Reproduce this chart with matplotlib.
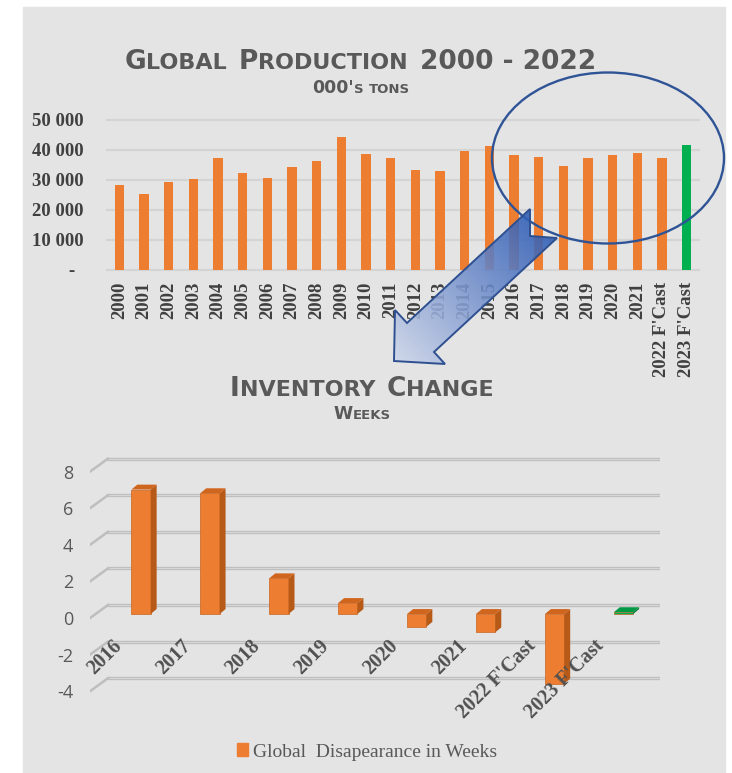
import matplotlib
matplotlib.use("Agg")
import matplotlib.pyplot as plt
import matplotlib.transforms as mtransforms
import numpy as np
from matplotlib.patches import Rectangle, Polygon, Ellipse, Patch
from matplotlib.colors import LinearSegmentedColormap

plt.rcParams['axes.unicode_minus'] = False

# --- Global production, 000's tons ---
prod_years = ["2000", "2001", "2002", "2003", "2004", "2005", "2006", "2007",
              "2008", "2009", "2010", "2011", "2012", "2013", "2014", "2015",
              "2016", "2017", "2018", "2019", "2020", "2021",
              "2022 F'Cast", "2023 F'Cast"]
prod_values = [28300, 25200, 29200, 30300, 37300, 32200, 30700, 34200,
               36500, 44300, 38700, 37300, 33500, 32900, 39700, 41200,
               38200, 37800, 34800, 37300, 38400, 39100, 37300, 41700]
prod_ticks = [0, 10000, 20000, 30000, 40000, 50000]

# --- Inventory change, weeks ---
inv_years = ["2016", "2017", "2018", "2019", "2020", "2021",
             "2022 F'Cast", "2023 F'Cast"]
inv_weeks = [6.8, 6.6, 1.95, 0.6, -0.7, -1.0, -3.8, 0.1]
inv_ticks = [-4, -2, 0, 2, 4, 6, 8]

ORANGE = '#ED7D31'
GREEN = '#00B050'
PANEL = '#E4E4E4'
GREY_TXT = '#595959'
DARK_TXT = '#404040'
BLUE = '#2F5496'

W, H = 732, 773
fig = plt.figure(figsize=(W / 100, H / 100), dpi=100)
fig.add_artist(Rectangle((23 / W, 0), (725 - 23) / W, (H - 7) / H,
                         transform=fig.transFigure, color=PANEL, zorder=-10))


def px_shift(dx, dy):
    # offset in pixels (y up)
    return mtransforms.ScaledTranslation(dx / 100, dy / 100, fig.dpi_scale_trans)


def small_caps(x_px, y_px, parts, color=GREY_TXT, family='DejaVu Sans', weight='bold'):
    # parts: (text, fontsize) or (None, gap in px); baseline at y_px, centred on x_px
    r = fig.canvas.get_renderer()
    items = []
    for s, size in parts:
        if s is None:
            items.append((None, size))
            continue
        t = fig.text(0, 1 - y_px / H, s, fontsize=size, color=color, family=family,
                     weight=weight, ha='left', va='baseline')
        items.append((t, t.get_window_extent(r).width))
    x0 = x_px - sum(w for _, w in items) / 2
    for t, w in items:
        if t is not None:
            t.set_x(x0 / W)
        x0 += w


# ---------------- top chart ----------------
ax1 = fig.add_axes([107 / W, 1 - 270 / H, 592 / W, 150 / H])
ax1.set_facecolor('none')
x = np.arange(len(prod_years))
prod_colors = [ORANGE] * (len(prod_years) - 1) + [GREEN]
ax1.bar(x, prod_values, width=0.37, color=prod_colors, zorder=3)
ax1.set_xlim(-0.5, len(x) - 0.5)
ax1.set_ylim(0, 50000)
ax1.set_yticks(prod_ticks, ['-' if v == 0 else f"{v:,}".replace(',', ' ') for v in prod_ticks])
ax1.set_xticks(x, prod_years)
ax1.yaxis.grid(True, color='#D4D4D4', lw=1.6, zorder=0)
for gl in ax1.get_ygridlines():
    gl.set_clip_on(False)
for s in ax1.spines.values():
    s.set_visible(False)
ax1.tick_params(axis='y', length=0, pad=17, labelsize=13.5, labelcolor=DARK_TXT)
ax1.tick_params(axis='x', length=0, pad=8.5, labelsize=13.5, labelcolor=DARK_TXT, labelrotation=90)
for lab in ax1.get_xticklabels() + ax1.get_yticklabels():
    lab.set_fontfamily('Liberation Serif')
    lab.set_fontweight('bold')
zero_lab = ax1.get_yticklabels()[0]
zero_lab.set_transform(zero_lab.get_transform() + px_shift(-9, 0))

small_caps(360, 69, [("G", 19), ("LOBAL", 16), (None, 12), ("P", 19), ("RODUCTION", 16),
                     (None, 12), ("2000 - 2022", 19)])
small_caps(361, 93, [("000'", 12.5), ("S", 9.5), (None, 5), ("TONS", 9.5)])

# ---------------- bottom chart (pseudo 3D) ----------------
ax2 = fig.add_axes([90 / W, 1 - 703.7 / H, 570 / W, 254.4 / H])
ax2.set_facecolor('none')
ax2.set_xlim(-0.74, 7.53)
ax2.set_ylim(-4.9, 9.0)
for s in ax2.spines.values():
    s.set_visible(False)

# depth of the floor / wall and of the bars, in data units
GRID_DX, GRID_DY, GRID_DROP = 0.26, 0.49, 0.22
BAR_W, BAR_DX, BAR_DY = 0.28, 0.087, 0.27

x0, x1 = ax2.get_xlim()
for v in inv_ticks:
    ax2.plot([x0 + GRID_DX, x1], [v + GRID_DY] * 2, color='#BEBEBE', lw=2.4,
             solid_capstyle='round', zorder=1)
    ax2.plot([x0 + GRID_DX, x1], [v + GRID_DY] * 2, color='#D6D6D6', lw=0.8, zorder=1)
    ax2.plot([x0, x0 + GRID_DX], [v - GRID_DROP, v + GRID_DY], color='#BEBEBE', lw=1.8, zorder=1)

ax2.set_yticks(inv_ticks, [str(v) for v in inv_ticks])
ax2.set_xticks([])
ax2.tick_params(axis='y', length=0, pad=12, labelsize=13, labelcolor=GREY_TXT)
for lab in ax2.get_yticklabels():
    lab.set_fontfamily('Open Sans')
    lab.set_transform(lab.get_transform() + px_shift(0, -4))

xi = np.arange(len(inv_years))
inv_colors = [ORANGE] * (len(inv_years) - 1) + [GREEN]
side_colors = ['#B85A17'] * (len(inv_years) - 1) + ['#007A36']
top_colors = ['#D0651E'] * (len(inv_years) - 1) + ['#009A44']
ax2.bar(xi, inv_weeks, width=BAR_W, color=inv_colors, edgecolor='#C8641F', lw=0.5, zorder=3,
        label="Global  Disapearance in Weeks")
for i, v in enumerate(inv_weeks):
    lo, hi = min(0, v), max(0, v)
    r = i + BAR_W / 2
    l = i - BAR_W / 2
    ax2.add_patch(Polygon([(r, lo), (r + BAR_DX, lo + BAR_DY), (r + BAR_DX, hi + BAR_DY), (r, hi)],
                          closed=True, fc=side_colors[i], ec='none', zorder=3))
    ax2.add_patch(Polygon([(l, hi), (l + BAR_DX, hi + BAR_DY), (r + BAR_DX, hi + BAR_DY), (r, hi)],
                          closed=True, fc=top_colors[i], ec='none', zorder=3))

for i, lab in enumerate(inv_years):
    ax2.annotate(lab, xy=(i, 0), xytext=(-22 * 0.72, -29 * 0.72), textcoords='offset points',
                 rotation=45, rotation_mode='anchor', ha='right', va='center',
                 fontsize=14.5, fontweight='bold', family='Liberation Serif',
                 color='#505050', zorder=6, annotation_clip=False)

small_caps(362, 396, [("I", 19), ("NVENTORY", 16), (None, 12), ("C", 19), ("HANGE", 16)])
small_caps(362, 419, [("W", 12.5), ("EEKS", 9.5)])

fig.legend(handles=[Patch(color=ORANGE)], labels=["Global  Disapearance in Weeks"],
           loc='center', bbox_to_anchor=(367 / W, 1 - 752 / H), frameon=False,
           prop=dict(family='Liberation Serif', size=14), labelcolor=GREY_TXT,
           handlelength=0.6, handleheight=0.6, handletextpad=0.25)

# ---------------- call-out ellipse and arrow ----------------
ov = fig.add_axes([0, 0, 1, 1])
ov.set_zorder(5)
ov.axis('off')
ov.add_patch(Ellipse((608, 158), 232, 171, fill=False, ec=BLUE, lw=1.7, zorder=4))

arrow_pts = np.array([(530, 209), (407, 323), (395, 310), (394, 361),
                      (445, 364), (434, 352), (557, 238), (530, 236)])
tail = np.array([543, 223])
tip = np.array([394, 361])
arrow = Polygon(arrow_pts, closed=True, fc='none', ec='#2E5090', lw=1.4, zorder=7)
ov.add_patch(arrow)
gx, gy = np.meshgrid(np.linspace(380, 570, 200), np.linspace(200, 370, 200))
d = tip - tail
t = ((gx - tail[0]) * d[0] + (gy - tail[1]) * d[1]) / (d @ d)
cmap = LinearSegmentedColormap.from_list('arrow', ['#2C5BB5', '#7C97CF', '#CDD6EA'])
img = ov.imshow(t, extent=(380, 570, 370, 200), origin='upper', cmap=cmap, vmin=0, vmax=1,
                alpha=0.88, aspect='auto', zorder=6)
img.set_clip_path(arrow)
ov.set_xlim(0, W)
ov.set_ylim(H, 0)

fig.savefig('out.png', dpi=100)
